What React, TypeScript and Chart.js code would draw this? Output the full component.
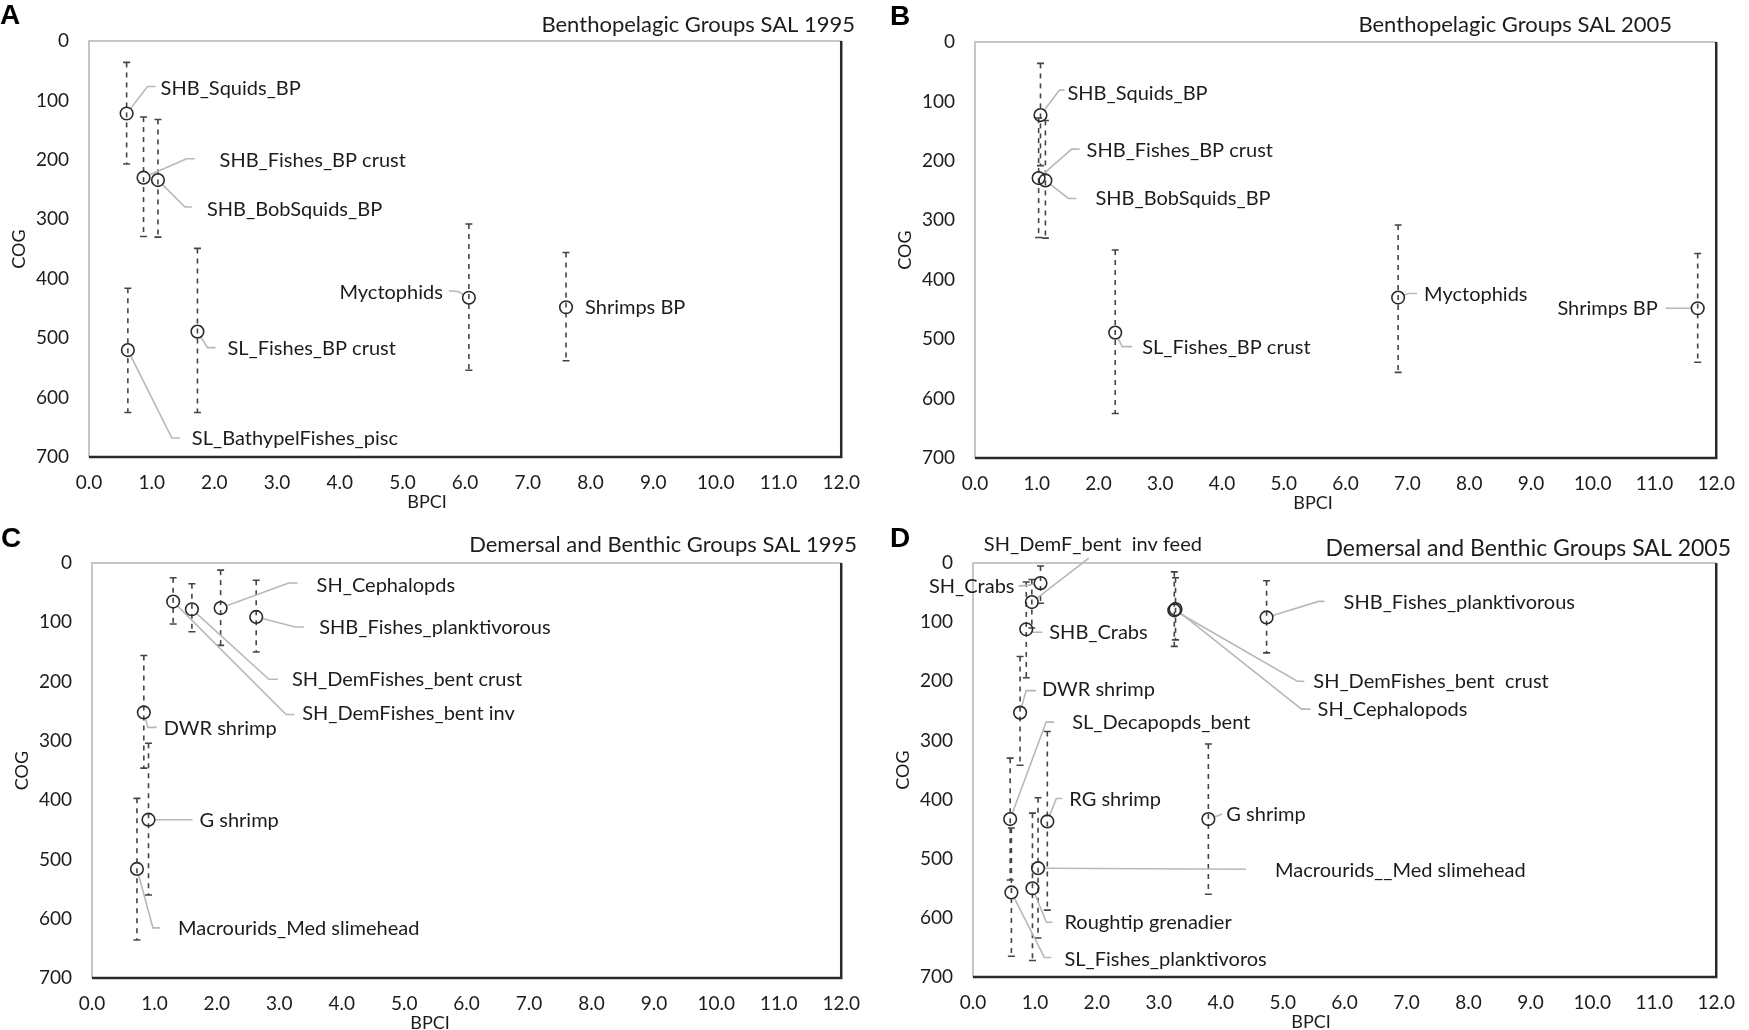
import React, { useEffect, useRef } from "react";
import { Chart, registerables } from "chart.js";

Chart.register(...registerables);

const FONT = "Lato, 'Open Sans', sans-serif";

// ---------- shared axis ticks ----------
const xTickValues = [0, 1, 2, 3, 4, 5, 6, 7, 8, 9, 10, 11, 12];
const yTickValues = [0, 100, 200, 300, 400, 500, 600, 700];

// ---------- Panel A : Benthopelagic Groups SAL 1995 ----------
const aNames = ["SHB_Squids_BP", "SHB_Fishes_BP crust", "SHB_BobSquids_BP", "SL_BathypelFishes_pisc", "SL_Fishes_BP crust", "Myctophids", "Shrimps BP"];
const aBPCI = [0.6, 0.87, 1.1, 0.62, 1.73, 6.06, 7.61];
const aCOG = [122, 230, 234, 520, 489, 432, 448];
const aLow = [36, 128, 132, 416, 349, 308, 356];
const aHigh = [207, 329, 330, 625, 625, 554, 538];

// ---------- Panel B : Benthopelagic Groups SAL 2005 ----------
const bNames = ["SHB_Squids_BP", "SHB_Fishes_BP crust", "SHB_BobSquids_BP", "SL_Fishes_BP crust", "Myctophids", "Shrimps BP"];
const bBPCI = [1.06, 1.03, 1.14, 2.27, 6.85, 11.7];
const bCOG = [123, 229, 233, 489, 430, 448];
const bLow = [36, 128, 132, 350, 308, 356];
const bHigh = [208, 329, 330, 625, 556, 539];

// ---------- Panel C : Demersal and Benthic Groups SAL 1995 ----------
const cNames = ["SH_DemFishes_bent inv", "SH_DemFishes_bent crust", "SH_Cephalopds", "SHB_Fishes_planktivorous", "DWR shrimp", "G shrimp", "Macrourids_Med slimehead"];
const cBPCI = [1.3, 1.6, 2.06, 2.63, 0.83, 0.905, 0.72];
const cCOG = [65, 78, 76, 91, 252, 433, 516];
const cLow = [25, 35, 12, 29, 156, 304, 397];
const cHigh = [103, 116, 139, 150, 346, 560, 636];

// ---------- Panel D : Demersal and Benthic Groups SAL 2005 ----------
const dNames = ["SH_Crabs", "SH_DemF_bent  inv feed", "SHB_Crabs", "DWR shrimp", "SL_Decapopds_bent", "SH_DemFishes_bent  crust", "SH_Cephalopods", "SHB_Fishes_planktivorous", "G shrimp", "RG shrimp", "Macrourids__Med slimehead", "Roughtip grenadier", "SL_Fishes_planktivoros"];
const dBPCI = [1.09, 0.95, 0.86, 0.76, 0.6, 3.25, 3.27, 4.74, 3.8, 1.2, 1.05, 0.96, 0.62];
const dCOG = [34, 66, 112, 253, 433, 80, 78, 92, 433, 437, 516, 550, 557];
const dLow = [5, 28, 32, 158, 330, 15, 25, 30, 306, 285, 397, 423, 448];
const dHigh = [68, 110, 194, 342, 536, 141, 130, 152, 560, 587, 634, 672, 665];

// ---------- label placement (pixel offsets from each marker) ----------
type LabelLayout = { t: [number, number]; align?: "left" | "right"; leader?: [number, number][] };

const aLayout: LabelLayout[] = [
  { t: [34, -25], leader: [[21, -27], [29, -27]] },
  { t: [76, -17], leader: [[43, -19], [51, -19]] },
  { t: [49, 29], leader: [[27, 27], [34, 27]] },
  { t: [64, 89], leader: [[44, 88], [52, 88]] },
  { t: [30, 17], leader: [[10, 16], [18, 16]] },
  { t: [-26, -5], align: "right", leader: [[-10, -6], [-20, -7]] },
  { t: [19, 0] },
];
const bLayout: LabelLayout[] = [
  { t: [27, -22], leader: [[19, -25], [24, -25]] },
  { t: [48, -28], leader: [[33, -29], [41, -29]] },
  { t: [50, 18], leader: [[23, 18], [31, 18]] },
  { t: [27, 15], leader: [[7, 14], [17, 14]] },
  { t: [26, -3], leader: [[10, -4], [19, -4]] },
  { t: [-40, 0], align: "right", leader: [[-8, 0], [-32, 0]] },
];
const cLayout: LabelLayout[] = [
  { t: [129, 112], leader: [[113, 113], [121, 113]] },
  { t: [100, 70], leader: [[77, 70], [86, 70]] },
  { t: [96, -23], leader: [[68, -25], [77, -25]] },
  { t: [63, 11], leader: [[39, 10], [48, 10]] },
  { t: [20, 16], leader: [[4, 15], [13, 15]] },
  { t: [51, 1], leader: [[44, 0]] },
  { t: [41, 60], leader: [[16, 59], [23, 59]] },
];
const dLayout: LabelLayout[] = [
  { t: [-26, 3], align: "right", leader: [[-12, 2], [-22, 3]] },
  { t: [-48, -57], leader: [[57, -44]] },
  { t: [23, 3], leader: [[6, 3], [16, 3]] },
  { t: [22, -23], leader: [[6, -22], [16, -22]] },
  { t: [62, -97], leader: [[36, -97], [44, -97]] },
  { t: [139, 71], leader: [[123, 71], [130, 71]] },
  { t: [142, 100], leader: [[126, 100], [135, 100]] },
  { t: [77, -15], leader: [[52, -16], [58, -16]] },
  { t: [18, -5], leader: [[14, -5]] },
  { t: [22, -22], leader: [[9, -23], [15, -23]] },
  { t: [237, 2], leader: [[208, 1]] },
  { t: [32, 34], leader: [[14, 34], [20, 34]] },
  { t: [53, 67], leader: [[33, 65], [40, 65]] },
];

interface PanelCfg {
  letter: string;
  title: string;
  names: string[];
  x: number[];
  y: number[];
  lo: number[];
  hi: number[];
  layout: LabelLayout[];
  box: { left: number; top: number; width: number; height: number };
  area: { left: number; top: number; right: number; bottom: number };
  titlePos: [number, number];
  titleSize: number;
  letterPos: [number, number];
}

const panels: PanelCfg[] = [
  {
    letter: "A", title: "Benthopelagic Groups SAL 1995", names: aNames, x: aBPCI, y: aCOG, lo: aLow, hi: aHigh, layout: aLayout,
    box: { left: 0, top: 0, width: 874, height: 515 }, area: { left: 89, top: 41, right: 845, bottom: 457 },
    titlePos: [855, 25], titleSize: 22, letterPos: [0, 16],
  },
  {
    letter: "B", title: "Benthopelagic Groups SAL 2005", names: bNames, x: bBPCI, y: bCOG, lo: bLow, hi: bHigh, layout: bLayout,
    box: { left: 874, top: 0, width: 875, height: 515 }, area: { left: 101, top: 42, right: 857, bottom: 458 },
    titlePos: [798, 25], titleSize: 22, letterPos: [16, 17],
  },
  {
    letter: "C", title: "Demersal and Benthic Groups SAL 1995", names: cNames, x: cBPCI, y: cCOG, lo: cLow, hi: cHigh, layout: cLayout,
    box: { left: 0, top: 515, width: 874, height: 515 }, area: { left: 92, top: 48, right: 846, bottom: 463 },
    titlePos: [857, 30], titleSize: 22, letterPos: [1, 24],
  },
  {
    letter: "D", title: "Demersal and Benthic Groups SAL 2005", names: dNames, x: dBPCI, y: dCOG, lo: dLow, hi: dHigh, layout: dLayout,
    box: { left: 874, top: 515, width: 875, height: 515 }, area: { left: 99, top: 48, right: 855, bottom: 462 },
    titlePos: [857, 34], titleSize: 23, letterPos: [16, 24],
  },
];

const Y_AXIS_W = 85;
const X_AXIS_H = 40;
const TEXT = "#1c1c1c";

function makeDecor(cfg: PanelCfg) {
  return {
    id: "decor" + cfg.letter,
    beforeDatasetsDraw(chart: any) {
      const { ctx, chartArea: a, scales } = chart;
      const xs = scales.x;
      const ys = scales.y;
      ctx.save();
      // plot frame
      ctx.setLineDash([]);
      ctx.lineWidth = 2;
      ctx.strokeStyle = "#c6c6c6";
      ctx.beginPath();
      ctx.moveTo(a.left, a.bottom);
      ctx.lineTo(a.left, a.top);
      ctx.lineTo(a.right, a.top);
      ctx.stroke();
      ctx.strokeStyle = "#2a2a2a";
      ctx.lineWidth = 2.5;
      ctx.beginPath();
      ctx.moveTo(a.left, a.bottom);
      ctx.lineTo(a.right, a.bottom);
      ctx.lineTo(a.right, a.top);
      ctx.stroke();

      // error bars
      ctx.strokeStyle = "#444";
      ctx.lineWidth = 1.6;
      for (let i = 0; i < cfg.x.length; i++) {
        const px = xs.getPixelForValue(cfg.x[i]);
        const p1 = ys.getPixelForValue(cfg.lo[i]);
        const p2 = ys.getPixelForValue(cfg.hi[i]);
        ctx.setLineDash([5, 5]);
        ctx.beginPath();
        ctx.moveTo(px, p1);
        ctx.lineTo(px, p2);
        ctx.stroke();
        ctx.setLineDash([]);
        ctx.beginPath();
        ctx.moveTo(px - 3.5, p1);
        ctx.lineTo(px + 3.5, p1);
        ctx.moveTo(px - 3.5, p2);
        ctx.lineTo(px + 3.5, p2);
        ctx.stroke();
      }

      // leader lines
      ctx.setLineDash([]);
      ctx.strokeStyle = "#b8b8b8";
      ctx.lineWidth = 1.6;
      const r = 6.5;
      for (let i = 0; i < cfg.x.length; i++) {
        const L = cfg.layout[i];
        if (!L || !L.leader || L.leader.length === 0) continue;
        const px = xs.getPixelForValue(cfg.x[i]);
        const py = ys.getPixelForValue(cfg.y[i]);
        const [fx, fy] = L.leader[0];
        const d = Math.hypot(fx, fy) || 1;
        ctx.beginPath();
        ctx.moveTo(px + (fx / d) * r, py + (fy / d) * r);
        for (const [ox, oy] of L.leader) ctx.lineTo(px + ox, py + oy);
        ctx.stroke();
      }
      ctx.restore();
    },
    afterDatasetsDraw(chart: any) {
      const { ctx, chartArea: a, scales } = chart;
      const xs = scales.x;
      const ys = scales.y;
      ctx.save();
      ctx.fillStyle = TEXT;
      ctx.font = `20px ${FONT}`;
      ctx.textBaseline = "middle";
      for (let i = 0; i < cfg.x.length; i++) {
        const L = cfg.layout[i];
        const px = xs.getPixelForValue(cfg.x[i]);
        const py = ys.getPixelForValue(cfg.y[i]);
        ctx.textAlign = L.align === "right" ? "right" : "left";
        ctx.fillText(cfg.names[i], px + L.t[0], py + L.t[1]);
      }

      // title
      ctx.font = `${cfg.titleSize}px ${FONT}`;
      ctx.textAlign = "right";
      ctx.fillText(cfg.title, cfg.titlePos[0], cfg.titlePos[1]);

      // panel letter
      ctx.font = `bold 28px 'Liberation Sans', Arial, sans-serif`;
      ctx.textAlign = "left";
      ctx.fillStyle = "#000";
      ctx.fillText(cfg.letter, cfg.letterPos[0], cfg.letterPos[1]);

      // axis titles
      ctx.fillStyle = TEXT;
      ctx.font = `18px ${FONT}`;
      ctx.textAlign = "center";
      ctx.fillText("BPCI", a.left + 338, a.bottom + 45);
      ctx.save();
      ctx.translate(a.left - 70, (a.top + a.bottom) / 2);
      ctx.rotate(-Math.PI / 2);
      ctx.fillText("COG", 0, 0);
      ctx.restore();
      ctx.restore();
    },
  };
}

function Panel({ cfg }: { cfg: PanelCfg }) {
  const ref = useRef<HTMLCanvasElement | null>(null);
  useEffect(() => {
    if (!ref.current) return;
    const { box, area } = cfg;
    const chart = new Chart(ref.current, {
      type: "scatter",
      data: {
        datasets: [
          {
            label: cfg.title,
            data: cfg.x.map((v, i) => ({ x: v, y: cfg.y[i] })),
            pointRadius: 6.3,
            pointHoverRadius: 6.3,
            pointBorderWidth: 1.6,
            pointBorderColor: "#2a2a2a",
            pointBackgroundColor: "rgba(0,0,0,0)",
            showLine: false,
          },
        ],
      },
      options: {
        animation: false,
        responsive: false,
        maintainAspectRatio: false,
        devicePixelRatio: 1,
        events: [],
        layout: {
          padding: {
            left: area.left - Y_AXIS_W,
            top: area.top,
            right: box.width - area.right,
            bottom: box.height - area.bottom - X_AXIS_H,
          },
        },
        plugins: { legend: { display: false }, tooltip: { enabled: false }, title: { display: false } },
        scales: {
          x: {
            type: "linear",
            min: 0,
            max: 12,
            afterBuildTicks: (s: any) => {
              s.ticks = xTickValues.map((v) => ({ value: v }));
            },
            afterFit: (s: any) => {
              s.height = X_AXIS_H;
            },
            ticks: {
              callback: (v: any) => Number(v).toFixed(1),
              font: { family: FONT, size: 19 },
              color: TEXT,
              padding: 14,
              maxRotation: 0,
              autoSkip: false,
            },
            grid: { display: false, drawTicks: false },
            border: { display: false },
          },
          y: {
            type: "linear",
            min: 0,
            max: 700,
            reverse: true,
            afterBuildTicks: (s: any) => {
              s.ticks = yTickValues.map((v) => ({ value: v }));
            },
            afterFit: (s: any) => {
              s.width = Y_AXIS_W;
            },
            ticks: {
              font: { family: FONT, size: 19 },
              color: TEXT,
              padding: 20,
              autoSkip: false,
            },
            grid: { display: false, drawTicks: false },
            border: { display: false },
          },
        },
      },
      plugins: [makeDecor(cfg)],
    } as any);
    return () => chart.destroy();
  }, [cfg]);
  return (
    <canvas
      ref={ref}
      width={cfg.box.width}
      height={cfg.box.height}
      style={{ position: "absolute", left: cfg.box.left, top: cfg.box.top, width: cfg.box.width, height: cfg.box.height }}
    />
  );
}

export default function App() {
  useEffect(() => {
    document.body.style.margin = "0";
    document.body.style.background = "#fff";
  }, []);
  return (
    <div style={{ position: "relative", width: 1749, height: 1030, background: "#fff", overflow: "hidden" }}>
      {panels.map((p) => (
        <Panel key={p.letter} cfg={p} />
      ))}
    </div>
  );
}
